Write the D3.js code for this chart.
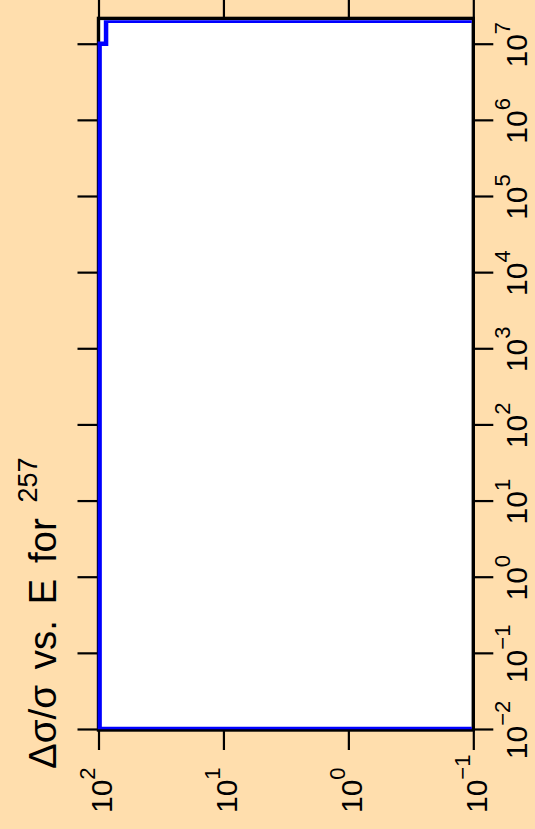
<!DOCTYPE html>
<html><head><meta charset="utf-8">
<script src="https://cdn.jsdelivr.net/npm/d3@7"></script>
<style>
html,body{margin:0;padding:0;background:#FFDEAD;}
svg{display:block;}
text{font-family:"Liberation Sans",Arial,Helvetica,sans-serif;fill:#000;}
</style></head>
<body>
<script>
// ---- data ----
const energyTicks = [1e-2,1e-1,1e0,1e1,1e2,1e3,1e4,1e5,1e6,1e7];
const energyTickExp = ["-2","-1","0","1","2","3","4","5","6","7"];
const relTicks = [1e2,1e1,1e0,1e-1];
const relTickExp = ["2","1","0","-1"];
const energyEdges = [1e-2, 1e7, 2e7];      // step boundaries (eV)
const relUnc = [98, 87];                     // Δσ/σ in each step
const titleMain = "Δσ/σ vs. E for ";
const titleSup = "257";

const W = 535, H = 829;
const box = {left:98.5, right:473.3, top:18.4, bottom:730};

const svg = d3.select("body").append("svg").attr("width",W).attr("height",H);
svg.append("rect").attr("width",W).attr("height",H).attr("fill","#FFDEAD");

// scales (chart drawn rotated: energy runs upward, Δσ/σ runs leftward)
const yE = d3.scaleLog().domain([0.0097, 2.15e7]).range([box.bottom, box.top]);
const xD = d3.scaleLog().domain([100, 0.1]).range([box.left, box.right]);

svg.append("rect").attr("x",box.left).attr("y",box.top)
  .attr("width",box.right-box.left).attr("height",box.bottom-box.top)
  .attr("fill","#fff").attr("stroke","#000").attr("stroke-width",3.4);

// axes ticks
function styleAxis(g){ g.select(".domain").remove(); g.selectAll(".tick line").attr("stroke","#000").attr("stroke-width",2.2); }
svg.append("g").attr("transform",`translate(0,${box.bottom})`)
  .call(d3.axisBottom(xD).tickValues(relTicks).tickSize(20).tickFormat("")).call(styleAxis);
svg.append("g").attr("transform",`translate(0,${box.top})`)
  .call(d3.axisTop(xD).tickValues(relTicks).tickSize(22).tickFormat("")).call(styleAxis);
svg.append("g").attr("transform",`translate(${box.right},0)`)
  .call(d3.axisRight(yE).tickValues(energyTicks).tickSize(20).tickFormat("")).call(styleAxis);
svg.append("g").attr("transform",`translate(${box.left},0)`)
  .call(d3.axisLeft(yE).tickValues(energyTicks).tickSize(21).tickFormat("")).call(styleAxis);

// step line
const clipId = "plotclip";
svg.append("clipPath").attr("id",clipId).append("rect")
  .attr("x",97.5).attr("y",20.2).attr("width",471.8-97.5).attr("height",729.2-20.2);
const floorVal = 0.01;
const pts = [[energyEdges[0], floorVal]];
relUnc.forEach((v,i)=>{ pts.push([energyEdges[i], v]); pts.push([energyEdges[i+1], v]); });
pts.push([energyEdges[energyEdges.length-1], floorVal]);
svg.append("path").attr("clip-path",`url(#${clipId})`)
  .attr("d", d3.line().x(d=>xD(d[1])).y(d=>yE(d[0]))(pts))
  .attr("fill","none").attr("stroke","#0000FF").attr("stroke-width",4.5)
  .attr("stroke-linejoin","miter").attr("stroke-linecap","butt");

const FS = 30, SFS = 22, SUPDY = -17;
// right labels (energy)
energyTicks.forEach((t,i)=>{
  const tx = svg.append("text").attr("transform",`translate(527,${yE(t)+1}) rotate(-90)`)
    .attr("text-anchor","middle").style("font-size",FS+"px");
  tx.append("tspan").text("10");
  tx.append("tspan").attr("dy",SUPDY).style("font-size",SFS+"px").text(energyTickExp[i].replace("-","\u2212"));
});
// bottom labels (Δσ/σ)
relTicks.forEach((t,i)=>{
  const tx = svg.append("text").attr("transform",`translate(${xD(t)+13.5},813) rotate(-90)`)
    .attr("text-anchor","start").style("font-size",FS+"px");
  tx.append("tspan").text("10");
  tx.append("tspan").attr("dy",SUPDY).style("font-size",SFS+"px").text(relTickExp[i].replace("-","\u2212"));
});
// title
const tt = svg.append("text").attr("transform",`translate(56,769) rotate(-90)`)
  .attr("text-anchor","start").style("font-size","38.5px").style("word-spacing","5px");
tt.append("tspan").text(titleMain);
tt.append("tspan").attr("dy",-19).style("font-size","27px").text(titleSup);
</script>
</body></html>
